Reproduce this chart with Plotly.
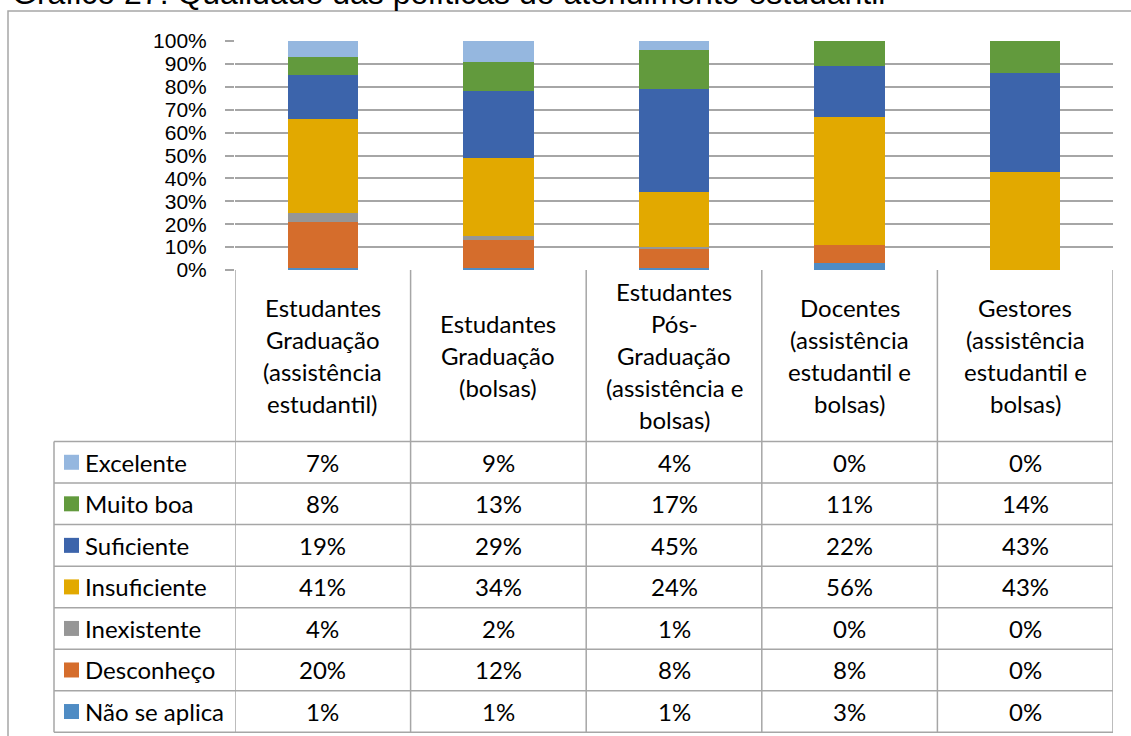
import plotly.graph_objects as go

# ---------------- data ----------------
categories = [
    ["Estudantes", "Graduação", "(assistência", "estudantil)"],
    ["Estudantes", "Graduação", "(bolsas)"],
    ["Estudantes", "Pós-", "Graduação", "(assistência e", "bolsas)"],
    ["Docentes", "(assistência", "estudantil e", "bolsas)"],
    ["Gestores", "(assistência", "estudantil e", "bolsas)"],
]
series_names = ["Excelente", "Muito boa", "Suficiente", "Insuficiente",
                "Inexistente", "Desconheço", "Não se aplica"]
excelente = [7, 9, 4, 0, 0]
muito_boa = [8, 13, 17, 11, 14]
suficiente = [19, 29, 45, 22, 43]
insuficiente = [41, 34, 24, 56, 43]
inexistente = [4, 2, 1, 0, 0]
desconheco = [20, 12, 8, 8, 0]
nao_se_aplica = [1, 1, 1, 3, 0]
y_ticks = [0, 10, 20, 30, 40, 50, 60, 70, 80, 90, 100]
title_text = "Gráfico 27: Qualidade das políticas do atendimento estudantil"

series_values = [excelente, muito_boa, suficiente, insuficiente,
                 inexistente, desconheco, nao_se_aplica]
colors = ["#95B7DF", "#629A3D", "#3C64AB", "#E2A900",
          "#969696", "#D56D2C", "#4F8CC4"]

# ---------------- layout helpers (pixels -> paper) ----------------
W, H = 1131, 736
def px(x):
    return x / W
def py(y):
    return 1 - y / H

PLOT_L, PLOT_R = 235, 1113
Y0, Y100 = 270, 41
TABLE_L = 54
HEADER_BOTTOM = 441.5
ROW_H = (732.3 - HEADER_BOTTOM) / 7
LINE_COL = "#a6a6a6"
TEXT_FONT = "Lato"
TEXT_SIZE = 24

xs = list(range(len(categories)))

fig = go.Figure()
# stacked bars: bottom series first
for name, vals, col in reversed(list(zip(series_names, series_values, colors))):
    fig.add_trace(go.Bar(x=xs, y=vals, name=name, marker_color=col,
                         marker_line_width=0, width=0.4, showlegend=False))

shapes = []
annotations = []

# outer frame
shapes.append(dict(type="rect", xref="paper", yref="paper",
                   x0=px(8), x1=px(W + 20), y0=py(H + 20), y1=py(11),
                   line=dict(color=LINE_COL, width=1.5)))

# table vertical lines (category boundaries)
for i in range(len(categories) + 1):
    shapes.append(dict(type="line", xref="x", yref="paper",
                       x0=i - 0.5, x1=i - 0.5, y0=py(Y0), y1=py(732.3),
                       line=dict(color=LINE_COL, width=1.5)))
# table left edge
shapes.append(dict(type="line", xref="paper", yref="paper",
                   x0=px(TABLE_L), x1=px(TABLE_L), y0=py(HEADER_BOTTOM), y1=py(732.3),
                   line=dict(color=LINE_COL, width=1.5)))
# table horizontal lines
for r in range(len(series_names) + 1):
    yy = HEADER_BOTTOM + r * ROW_H
    shapes.append(dict(type="line", xref="paper", yref="paper",
                       x0=px(TABLE_L), x1=px(PLOT_R), y0=py(yy), y1=py(yy),
                       line=dict(color=LINE_COL, width=1.5)))

# header labels
header_center = (Y0 + HEADER_BOTTOM) / 2
LINE_SP = 32
for i, lines in enumerate(categories):
    n = len(lines)
    for k, t in enumerate(lines):
        yy = header_center + (k - (n - 1) / 2) * LINE_SP
        annotations.append(dict(x=i, y=py(yy), xref="x", yref="paper",
                                text=t, showarrow=False, xanchor="center", yanchor="middle",
                                font=dict(family=TEXT_FONT, size=TEXT_SIZE, color="black")))

# table rows: swatch, name, values
for r, (name, vals, col) in enumerate(zip(series_names, series_values, colors)):
    yc = HEADER_BOTTOM + (r + 0.5) * ROW_H
    shapes.append(dict(type="rect", xref="paper", yref="paper",
                       x0=px(64), x1=px(79), y0=py(yc + 7.5), y1=py(yc - 7.5),
                       fillcolor=col, line=dict(width=0)))
    annotations.append(dict(x=px(83), y=py(yc), xref="paper", yref="paper",
                            text=name, showarrow=False, xanchor="left", yanchor="middle",
                            font=dict(family=TEXT_FONT, size=TEXT_SIZE, color="black")))
    for i, v in enumerate(vals):
        annotations.append(dict(x=i, y=py(yc), xref="x", yref="paper",
                                text=f"{v}%", showarrow=False, xanchor="center", yanchor="middle",
                                font=dict(family=TEXT_FONT, size=TEXT_SIZE, color="black")))

# clipped title at the very top
annotations.append(dict(x=px(10), y=py(-7), xref="paper", yref="paper",
                        text=title_text, showarrow=False, xanchor="left", yanchor="middle",
                        font=dict(family="Liberation Sans", size=32, color="black")))

fig.update_layout(
    template="none",
    width=W, height=H,
    margin=dict(l=0, r=0, t=0, b=0, pad=0),
    paper_bgcolor="white", plot_bgcolor="white",
    barmode="stack", bargap=0.6,
    shapes=shapes, annotations=annotations,
    xaxis=dict(domain=[px(PLOT_L), px(PLOT_R)], range=[-0.5, len(categories) - 0.5],
               showticklabels=False, showgrid=False, zeroline=False, showline=False,
               ticks="", fixedrange=True, automargin=False),
    yaxis=dict(domain=[py(Y0), py(Y100)], range=[0, 100],
               tickvals=y_ticks, ticktext=[f"{t}%" for t in y_ticks],
               showgrid=True, gridcolor=LINE_COL, gridwidth=1.5,
               zeroline=False, showline=False,
               ticks="outside", ticklen=9, tickcolor=LINE_COL, tickwidth=1.5,
               ticklabelstandoff=14,
               tickfont=dict(family="Liberation Sans", size=21, color="black"),
               fixedrange=True, automargin=False),
)

fig.write_html("out.html",
               config={"displayModeBar": False},
               post_script="document.body.style.margin='0';document.body.style.overflow='hidden';")
